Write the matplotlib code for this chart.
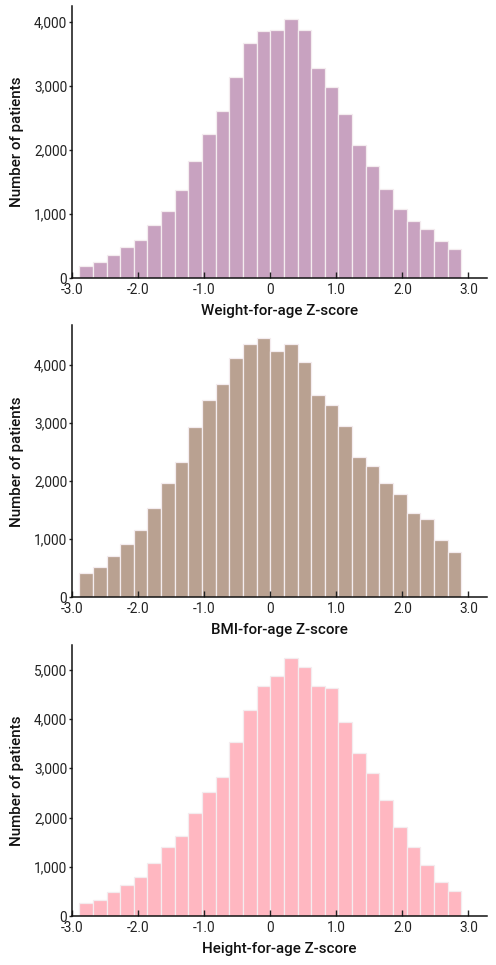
import numpy as np
import matplotlib
matplotlib.use("Agg")
import matplotlib.pyplot as plt
from matplotlib.ticker import FuncFormatter, MultipleLocator

plt.rcParams['font.family'] = ['Roboto', 'DejaVu Sans']

# Bin edges (Z-score), 28 bins
bin_edges = np.linspace(-2.89, 2.89, 29)

weight_counts = [193, 261, 370, 495, 595, 824, 1048, 1372, 1836, 2253, 2618, 3140, 3671, 3864,
                 3870, 4047, 3880, 3280, 2988, 2566, 2081, 1747, 1397, 1074, 892, 777, 589, 459]
bmi_counts = [414, 523, 707, 914, 1167, 1534, 1971, 2333, 2925, 3391, 3667, 4115, 4356, 4460,
              4241, 4362, 4052, 3489, 3310, 2954, 2408, 2253, 1966, 1787, 1448, 1345, 983, 787]
height_counts = [270, 338, 500, 642, 797, 1074, 1405, 1635, 2095, 2514, 2824, 3534, 4189, 4676,
                 4872, 5243, 5061, 4662, 4635, 3939, 3311, 2905, 2351, 1804, 1412, 1041, 689, 514]

xlabels = ["Weight-for-age Z-score", "BMI-for-age Z-score", "Height-for-age Z-score"]
colors = ["#C8A2C0", "#B9A191", "#FFB7C1"]
xticks = [-3.0, -2.0, -1.0, 0.0, 1.0, 2.0, 3.0]
xticklabels = ["-3.0", "-2.0", "-1.0", "0", "1.0", "2.0", "3.0"]

W, H = 496, 965
fig = plt.figure(figsize=(W / 100, H / 100), dpi=100)

panels = [(6, 278.3), (325.3, 597.3), (644.7, 916.3)]
left_px, right_px = 72, 487

series = [weight_counts, bmi_counts, height_counts]
for (top, bot), counts, lab, col in zip(panels, series, xlabels, colors):
    ax = fig.add_axes([left_px / W, 1 - bot / H, (right_px - left_px) / W, (bot - top) / H])
    widths = np.diff(bin_edges)
    ax.bar(bin_edges[:-1], counts, width=widths, align='edge', color=col,
           edgecolor='#F4ECEF', linewidth=0.9)
    ax.set_xlim(-3.0, 3.28)
    ax.set_ylim(0, max(counts) * 1.05)
    ax.set_xticks(xticks)
    ax.set_xticklabels(xticklabels)
    ax.yaxis.set_major_formatter(FuncFormatter(lambda v, p: f"{int(v):,}"))
    ax.yaxis.set_major_locator(MultipleLocator(1000))
    ax.tick_params(axis='x', direction='in', length=4, width=1, labelsize=9.8, pad=3.5, colors='#222222')
    ax.tick_params(axis='y', direction='out', length=2.5, width=1, labelsize=9.8, pad=1, colors='#222222')
    for s in ['top', 'right']:
        ax.spines[s].set_visible(False)
    for s in ['left', 'bottom']:
        ax.spines[s].set_linewidth(1.1)
        ax.spines[s].set_color('#111111')
    ax.set_xlabel(lab, fontsize=10.9, fontweight='medium', labelpad=5, color='#111111')
    ax.set_ylabel("Number of patients", fontsize=10.9, fontweight='medium', labelpad=7, color='#111111')

fig.savefig("out.png", dpi=100, facecolor='white')
